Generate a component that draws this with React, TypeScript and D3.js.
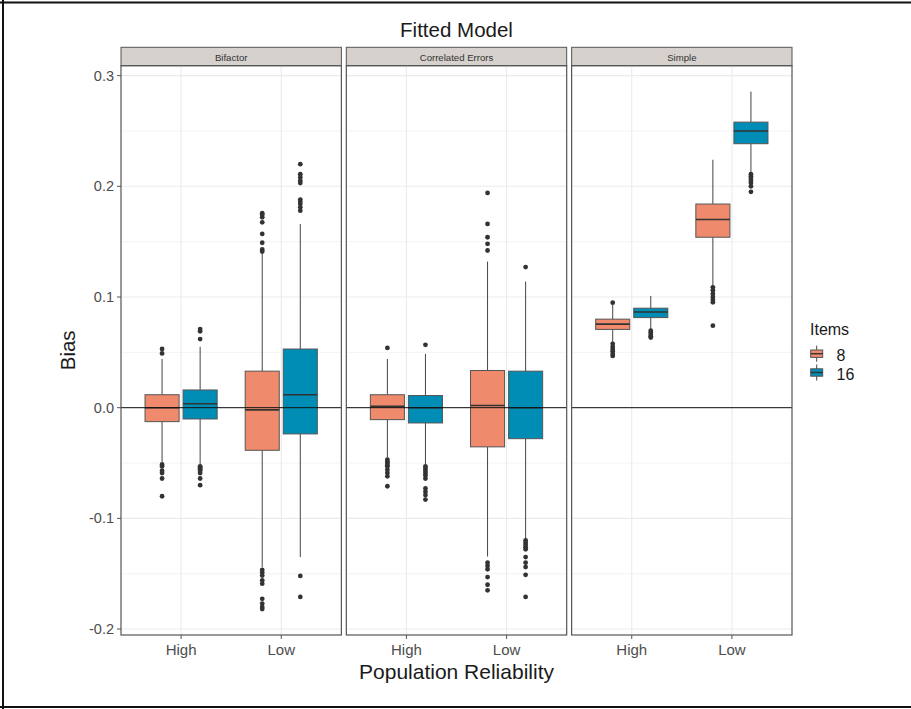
import React from "react";
import * as d3 from "d3";

// ---- Data ----
const panelNames = ["Bifactor", "Correlated Errors", "Simple"];
const reliabilityLevels = ["High", "Low"];
const itemLevels = ["8", "16"];
const yTickValues = [-0.2, -0.1, 0.0, 0.1, 0.2, 0.3];
const yMinorValues = [-0.15, -0.05, 0.05, 0.15, 0.25];

// group order: panel -> reliability -> items
const groupPanel = ["Bifactor", "Bifactor", "Bifactor", "Bifactor",
  "Correlated Errors", "Correlated Errors", "Correlated Errors", "Correlated Errors",
  "Simple", "Simple", "Simple", "Simple"];
const groupReliability = ["High", "High", "Low", "Low", "High", "High", "Low", "Low", "High", "High", "Low", "Low"];
const groupItems = ["8", "16", "8", "16", "8", "16", "8", "16", "8", "16", "8", "16"];

const whiskerLow = [-0.049, -0.051, -0.144, -0.135, -0.045, -0.051, -0.1345, -0.119, 0.058, 0.0703, 0.109, 0.212];
const quartile1 = [-0.0126, -0.0102, -0.0385, -0.0237, -0.0108, -0.0138, -0.0354, -0.028, 0.0707, 0.0814, 0.154, 0.2385];
const medianVals = [0.0, 0.0036, -0.002, 0.0117, 0.0012, 0.0, 0.002, 0.0, 0.0755, 0.0864, 0.170, 0.250];
const quartile3 = [0.0117, 0.016, 0.033, 0.053, 0.0117, 0.011, 0.0336, 0.033, 0.080, 0.0899, 0.184, 0.258];
const whiskerHigh = [0.044, 0.055, 0.140, 0.166, 0.044, 0.0486, 0.132, 0.114, 0.0928, 0.101, 0.224, 0.2856];

const outliers: number[][] = [
  [0.053, 0.049, -0.0513, -0.053, -0.057, -0.059, -0.064, -0.080],
  [0.071, 0.069, 0.062, -0.053, -0.054, -0.055, -0.056, -0.057, -0.059, -0.064, -0.070],
  [0.1757, 0.174, 0.172, 0.1675, 0.157, 0.149, 0.143, 0.141, -0.1466, -0.149, -0.1517, -0.156, -0.159, -0.1727, -0.177, -0.180, -0.182],
  [0.220, 0.211, 0.208, 0.205, 0.203, 0.188, 0.186, 0.184, 0.181, 0.178, -0.152, -0.171],
  [0.054, -0.047, -0.049, -0.050, -0.052, -0.053, -0.056, -0.059, -0.062, -0.071],
  [0.0568, -0.053, -0.055, -0.057, -0.059, -0.061, -0.064, -0.073, -0.076, -0.079, -0.083],
  [0.194, 0.166, 0.154, 0.148, 0.142, -0.140, -0.143, -0.146, -0.153, -0.160, -0.165],
  [0.127, -0.120, -0.122, -0.124, -0.126, -0.128, -0.135, -0.140, -0.144, -0.151, -0.171],
  [0.0949, 0.0577, 0.055, 0.053, 0.051, 0.0486, 0.0468],
  [0.0696, 0.068, 0.066, 0.0645, 0.0633],
  [0.1087, 0.106, 0.103, 0.100, 0.0975, 0.0952, 0.0741],
  [0.211, 0.209, 0.207, 0.205, 0.203, 0.200, 0.195],
];

const itemColors = ["#EF8B6C", "#008DB5"];

// ---- Layout ----
const W = 911;
const H = 709;
const plotLeft = 121;
const plotRight = 792;
const stripTop = 47.3;
const panelTop = 65.7;
const panelBottom = 635;
const FONT = "'Liberation Sans', Arial, Helvetica, sans-serif";

export default function App() {
  const allVals = [...whiskerLow, ...whiskerHigh, ...outliers.flat()];
  const dMin = d3.min(allVals) as number;
  const dMax = d3.max(allVals) as number;
  const pad = (dMax - dMin) * 0.05;
  const y = d3.scaleLinear().domain([dMin - pad, dMax + pad]).range([panelBottom, panelTop]);

  const panelX = d3.scaleBand().domain(panelNames).range([plotLeft, plotRight]).paddingInner(0.022).paddingOuter(0);
  const bw = panelX.bandwidth();
  const relX = d3.scalePoint().domain(reliabilityLevels).range([0, bw]).padding(0.6);
  const step = relX.step();
  const dodge = d3.scaleBand().domain(itemLevels).range([-0.38 * step, 0.38 * step]).paddingInner(0.105).paddingOuter(0.0525);
  const boxW = dodge.bandwidth();
  const color = d3.scaleOrdinal<string, string>().domain(itemLevels).range(itemColors);

  const gridColor = "#EBEBEB";
  const midX = (plotLeft + plotRight) / 2;

  return (
    <svg width={W} height={H} style={{ position: "absolute", left: 0, top: 0, background: "#fff" }}>
      <rect x={0} y={0} width={W} height={H} fill="#fff" />
      {/* outer frame */}
      <line x1={0} x2={W} y1={2.5} y2={2.5} stroke="#111" strokeWidth={2} />
      <line x1={3} x2={3} y1={0} y2={H} stroke="#111" strokeWidth={2} />
      <line x1={0} x2={W} y1={707} y2={707} stroke="#111" strokeWidth={2} />

      <text x={midX} y={37} textAnchor="middle" fontFamily={FONT} fontSize={20.5} fill="#1a1a1a">Fitted Model</text>

      {panelNames.map((p) => {
        const x0 = panelX(p) as number;
        return (
          <g key={p}>
            {/* strip */}
            <rect x={x0} y={stripTop} width={bw} height={panelTop - stripTop} fill="#D6D1CD" stroke="#555" strokeWidth={1} />
            <text x={x0 + bw / 2} y={60.5} textAnchor="middle" fontFamily={FONT} fontSize={9.6} fill="#333">{p}</text>
            {/* grid */}
            {yMinorValues.map((v) => (
              <line key={"mn" + v} x1={x0} x2={x0 + bw} y1={y(v)} y2={y(v)} stroke={gridColor} strokeWidth={0.6} />
            ))}
            {yTickValues.map((v) => (
              <line key={"mj" + v} x1={x0} x2={x0 + bw} y1={y(v)} y2={y(v)} stroke={gridColor} strokeWidth={1.1} />
            ))}
            {reliabilityLevels.map((r) => (
              <line key={"vx" + r} x1={x0 + (relX(r) as number)} x2={x0 + (relX(r) as number)} y1={panelTop} y2={panelBottom} stroke={gridColor} strokeWidth={1.1} />
            ))}
          </g>
        );
      })}

      {/* boxplots */}
      {groupPanel.map((p, i) => {
        const cx = (panelX(p) as number) + (relX(groupReliability[i]) as number) + (dodge(groupItems[i]) as number) + boxW / 2;
        const fill = color(groupItems[i]);
        return (
          <g key={"b" + i}>
            <line x1={cx} x2={cx} y1={y(quartile3[i])} y2={y(whiskerHigh[i])} stroke="#444" strokeWidth={1} />
            <line x1={cx} x2={cx} y1={y(quartile1[i])} y2={y(whiskerLow[i])} stroke="#444" strokeWidth={1} />
            <rect x={cx - boxW / 2} y={y(quartile3[i])} width={boxW} height={y(quartile1[i]) - y(quartile3[i])} fill={fill} stroke="#555" strokeWidth={1} />
            <line x1={cx - boxW / 2} x2={cx + boxW / 2} y1={y(medianVals[i])} y2={y(medianVals[i])} stroke="#333" strokeWidth={1.6} />
            {outliers[i].map((v, k) => (
              <circle key={k} cx={cx} cy={y(v)} r={2.4} fill="#333" />
            ))}
          </g>
        );
      })}

      {/* zero line and panel borders, axes */}
      {panelNames.map((p) => {
        const x0 = panelX(p) as number;
        return (
          <g key={"f" + p}>
            <line x1={x0} x2={x0 + bw} y1={y(0)} y2={y(0)} stroke="#111" strokeWidth={1} />
            <rect x={x0} y={panelTop} width={bw} height={panelBottom - panelTop} fill="none" stroke="#555" strokeWidth={1.2} />
            {reliabilityLevels.map((r) => {
              const tx = x0 + (relX(r) as number);
              return (
                <g key={"t" + r}>
                  <line x1={tx} x2={tx} y1={panelBottom} y2={panelBottom + 4} stroke="#555" strokeWidth={1} />
                  <text x={tx} y={655} textAnchor="middle" fontFamily={FONT} fontSize={15} fill="#4D4D4D">{r}</text>
                </g>
              );
            })}
          </g>
        );
      })}

      {/* y axis */}
      {yTickValues.map((v) => (
        <g key={"yt" + v}>
          <line x1={plotLeft - 4} x2={plotLeft} y1={y(v)} y2={y(v)} stroke="#555" strokeWidth={1} />
          <text x={plotLeft - 7} y={y(v) + 5} textAnchor="end" fontFamily={FONT} fontSize={14.5} fill="#4D4D4D">{d3.format(".1f")(v).replace("−", "-")}</text>
        </g>
      ))}
      <text transform={`translate(75, ${(panelTop + panelBottom) / 2}) rotate(-90)`} textAnchor="middle" fontFamily={FONT} fontSize={20.5} fill="#1a1a1a">Bias</text>
      <text x={midX} y={678.5} textAnchor="middle" fontFamily={FONT} fontSize={21} fill="#1a1a1a">Population Reliability</text>

      {/* legend */}
      <text x={810} y={335} fontFamily={FONT} fontSize={16} fill="#1a1a1a">Items</text>
      {itemLevels.map((it, k) => {
        const cy = 353.7 + k * 18.8;
        const kx = 816.7;
        return (
          <g key={"lg" + it}>
            <line x1={kx} x2={kx} y1={cy - 8} y2={cy + 8} stroke="#444" strokeWidth={1} />
            <rect x={kx - 6} y={cy - 3.7} width={12} height={7.4} fill={color(it)} stroke="#555" strokeWidth={1} />
            <line x1={kx - 6} x2={kx + 6} y1={cy} y2={cy} stroke="#333" strokeWidth={1.4} />
            <text x={836.5} y={cy + 7} fontFamily={FONT} fontSize={16} fill="#1a1a1a">{it}</text>
          </g>
        );
      })}
    </svg>
  );
}
